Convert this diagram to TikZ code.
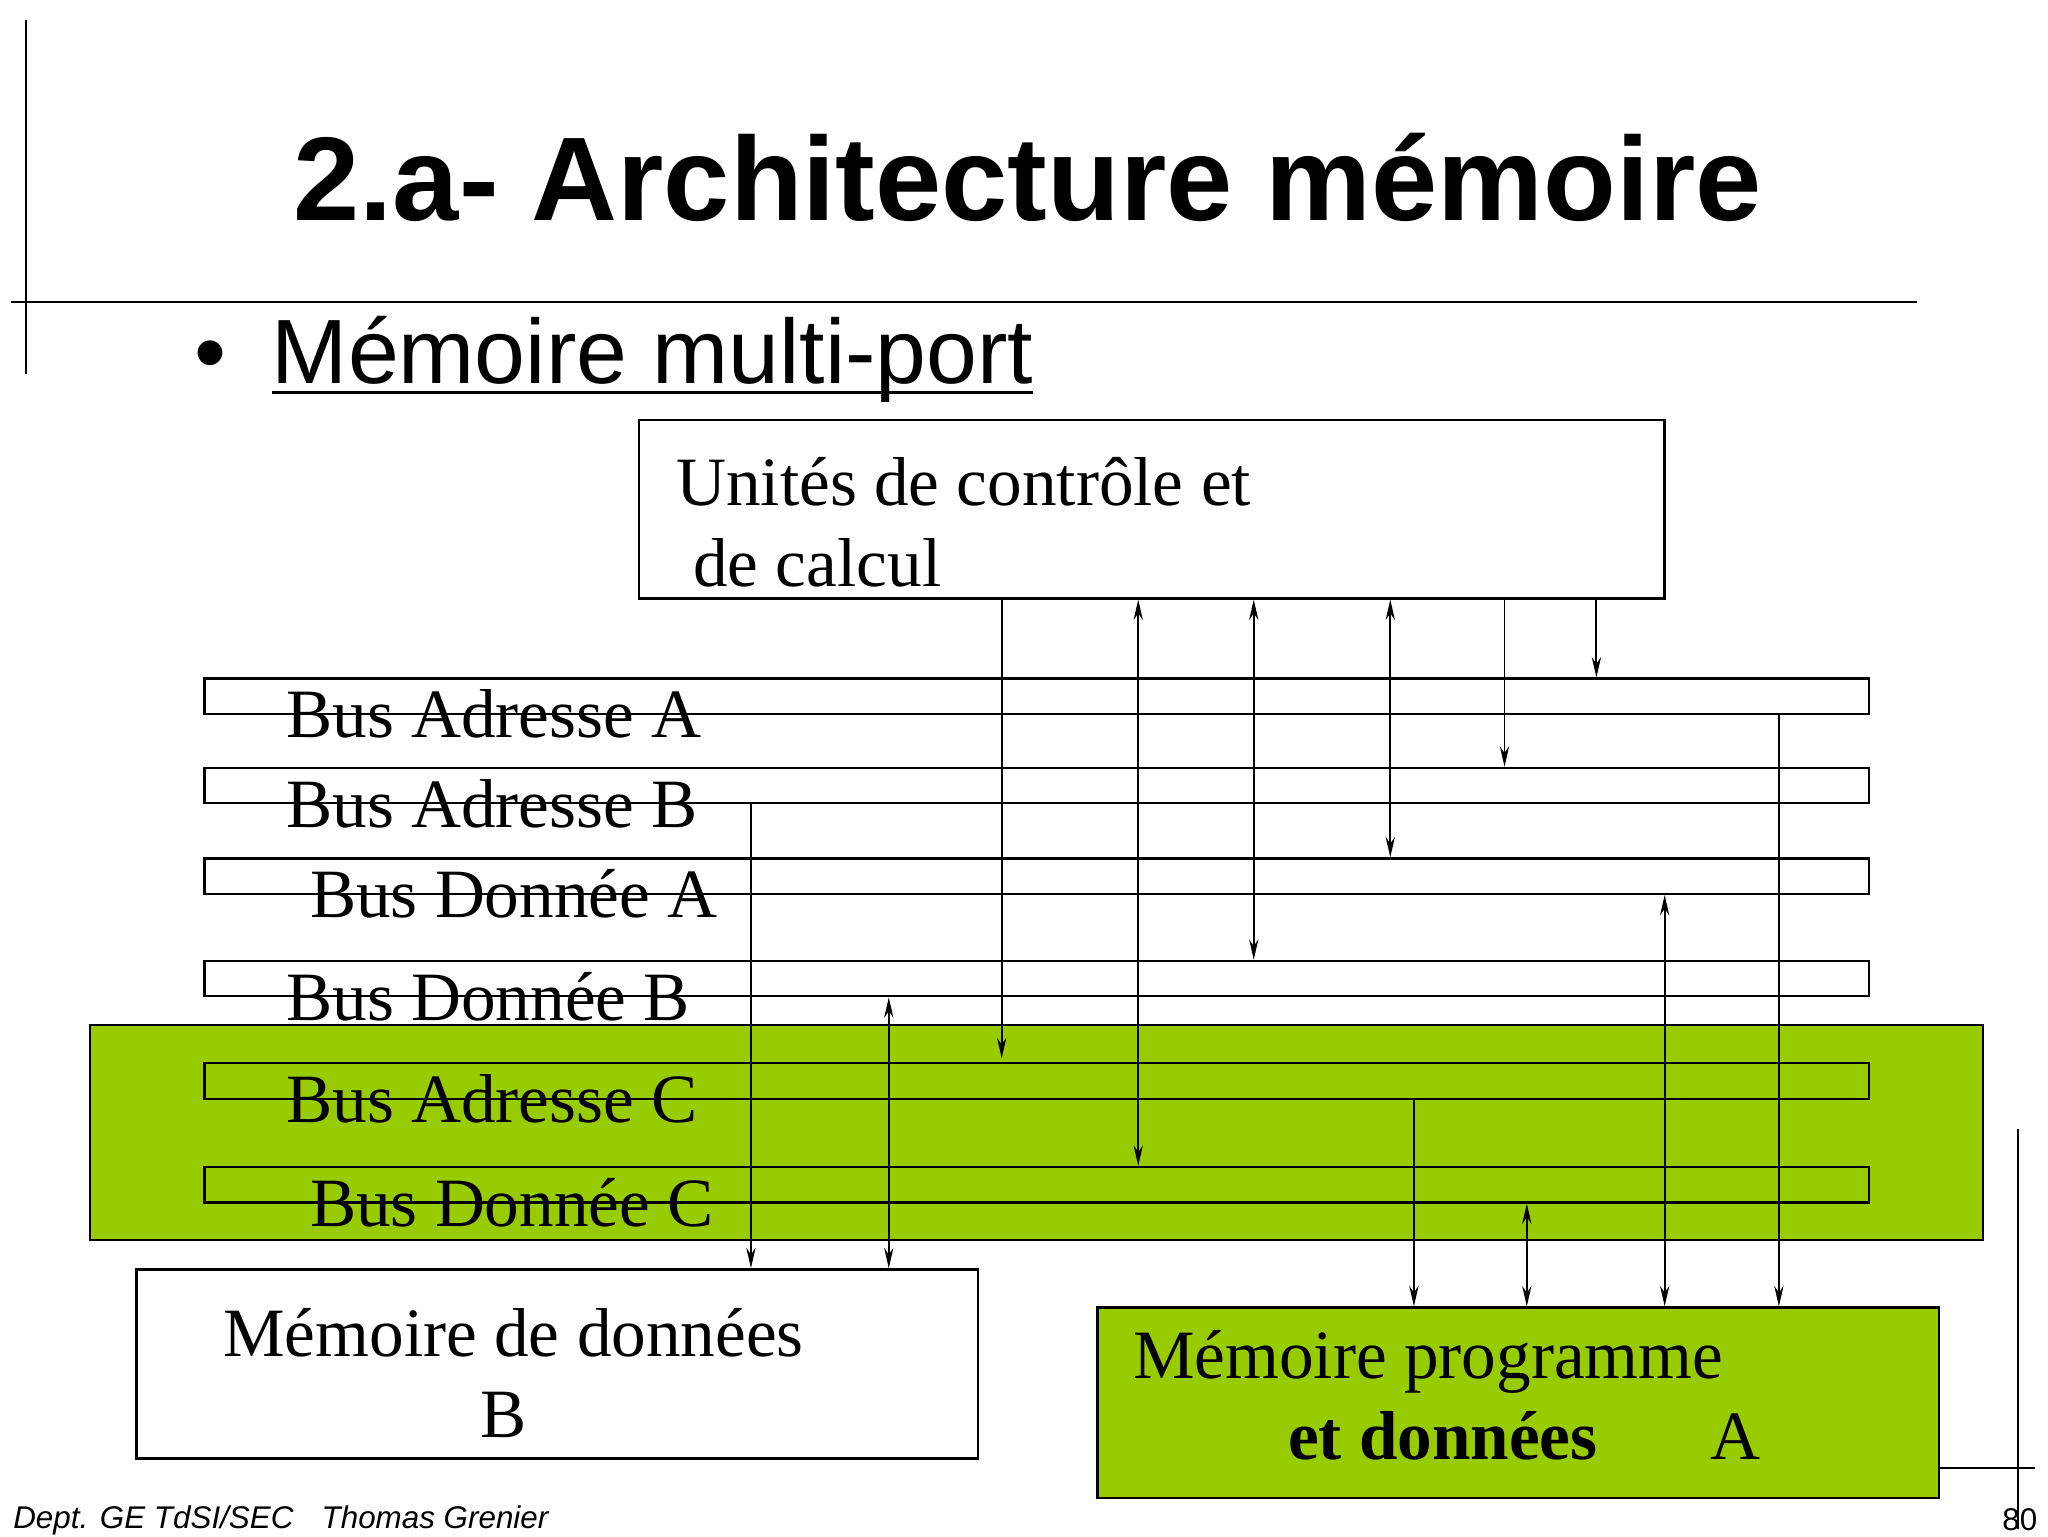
\documentclass[tikz,border=0pt]{standalone}
\usepackage{fontspec}
\setmainfont{Liberation Serif}
\setsansfont{Liberation Sans}
\usetikzlibrary{arrows.meta}
\definecolor{lgreen}{HTML}{99CC00}
\begin{document}
\begin{tikzpicture}[x=0.05cm,y=-0.05cm,
  box/.style={draw,line width=2.5pt},
  lab/.style={anchor=base west,inner sep=0,font=\fontsize{75}{90}\selectfont},
  ar/.style={line width=2pt,-{Stealth[length=22pt,width=10pt]}},
  dar/.style={line width=2pt,{Stealth[length=22pt,width=10pt]}-{Stealth[length=22pt,width=10pt]}},
  frame/.style={line width=2pt}]
\useasboundingbox[fill=white] (0,0) rectangle (1560,1170);
\draw[frame] (20,15) -- (20,285);
\draw[frame] (8,230) -- (1460,230);
\draw[frame] (1537,860) -- (1537,1165);
\draw[frame] (1478,1118) -- (1550,1118);
\node[inner sep=0,font=\sffamily\bfseries\fontsize{129}{140}\selectfont] (title) at (783,135) {2.a- Architecture mémoire};
\node[anchor=base west,inner sep=0,font=\sffamily\fontsize{99}{110}\selectfont] (bullet) at (148,292) {•};
\node[anchor=base west,inner sep=0,font=\sffamily\fontsize{99}{110}\selectfont] (sub) at (207,292) {Mémoire multi-port};
\draw[line width=4pt] (sub.base west) ++(0,7) -- ++(580,0);
% green band
\node[fill=lgreen,draw,line width=2pt,minimum width=1442*0.05cm,minimum height=164*0.05cm,anchor=north west,inner sep=0] (band) at (68,780) {};
% control unit
\node[box,anchor=north west,minimum width=781*0.05cm,minimum height=136*0.05cm,inner sep=0] (ctrl) at (486,319) {};
\node[lab] (ct1) at (515,385) {Unités de contrôle et};
\node[lab] (ct2) at (528,447) {de calcul};
% buses
\foreach \n/\y in {aa/516,ab/584,da/653,db/731,ac/809,dc/888}{
  \node[box,anchor=north west,minimum width=1268*0.05cm,minimum height=27*0.05cm,inner sep=0] (\n) at (155,\y) {};
}
\node[lab] (laa) at (218,562) {Bus Adresse A};
\node[lab] (lab) at (218,630) {Bus Adresse B};
\node[lab] (lda) at (236,699) {Bus Donnée A};
\node[lab] (ldb) at (218,777) {Bus Donnée B};
\node[lab] (lac) at (218,855) {Bus Adresse C};
\node[lab] (ldc) at (236,934) {Bus Donnée C};
% memories
\node[box,fill=white,anchor=north west,minimum width=641*0.05cm,minimum height=144*0.05cm,inner sep=0] (memb) at (103,966) {};
\node[lab] (mb1) at (170,1033) {Mémoire de données};
\node[lab] (mb2) at (366,1095) {B};
\node[box,fill=lgreen,anchor=north west,minimum width=641*0.05cm,minimum height=145*0.05cm,inner sep=0] (mema) at (835,995) {};
\node[lab] (ma1) at (863,1050) {Mémoire programme};
\node[lab,font=\bfseries\fontsize{75}{90}\selectfont] (ma2) at (981,1112) {et données};
\node[lab] (ma3) at (1303,1112) {A};
% arrows
\draw[ar] (ctrl.south -| 763,0) -- (763,806);
\draw[dar] (ctrl.south -| 867,0) -- (dc.north -| 867,0);
\draw[dar] (ctrl.south -| 955,0) -- (db.north -| 955,0);
\draw[dar] (ctrl.south -| 1059,0) -- (da.north -| 1059,0);
\draw[ar] (ctrl.south -| 1146,0) -- (ab.north -| 1146,0);
\draw[ar] (ctrl.south -| 1216,0) -- (aa.north -| 1216,0);
\draw[ar] (aa.south -| 1355,0) -- (mema.north -| 1355,0);
\draw[dar] (da.south -| 1268,0) -- (mema.north -| 1268,0);
\draw[dar] (dc.south -| 1163,0) -- (mema.north -| 1163,0);
\draw[ar] (ac.south -| 1077,0) -- (mema.north -| 1077,0);
\draw[ar] (ab.south -| 572,0) -- (memb.north -| 572,0);
\draw[dar] (db.south -| 677,0) -- (memb.north -| 677,0);
% footer
\node[anchor=base west,inner sep=0,font=\sffamily\itshape\fontsize{34}{40}\selectfont] (foot) at (10,1164) {Dept. GE TdSI/SEC\hspace{0.9em}Thomas Grenier};
\node[anchor=base east,inner sep=0,font=\sffamily\fontsize{34}{40}\selectfont] (page) at (1552,1166) {80};
\end{tikzpicture}
\end{document}
